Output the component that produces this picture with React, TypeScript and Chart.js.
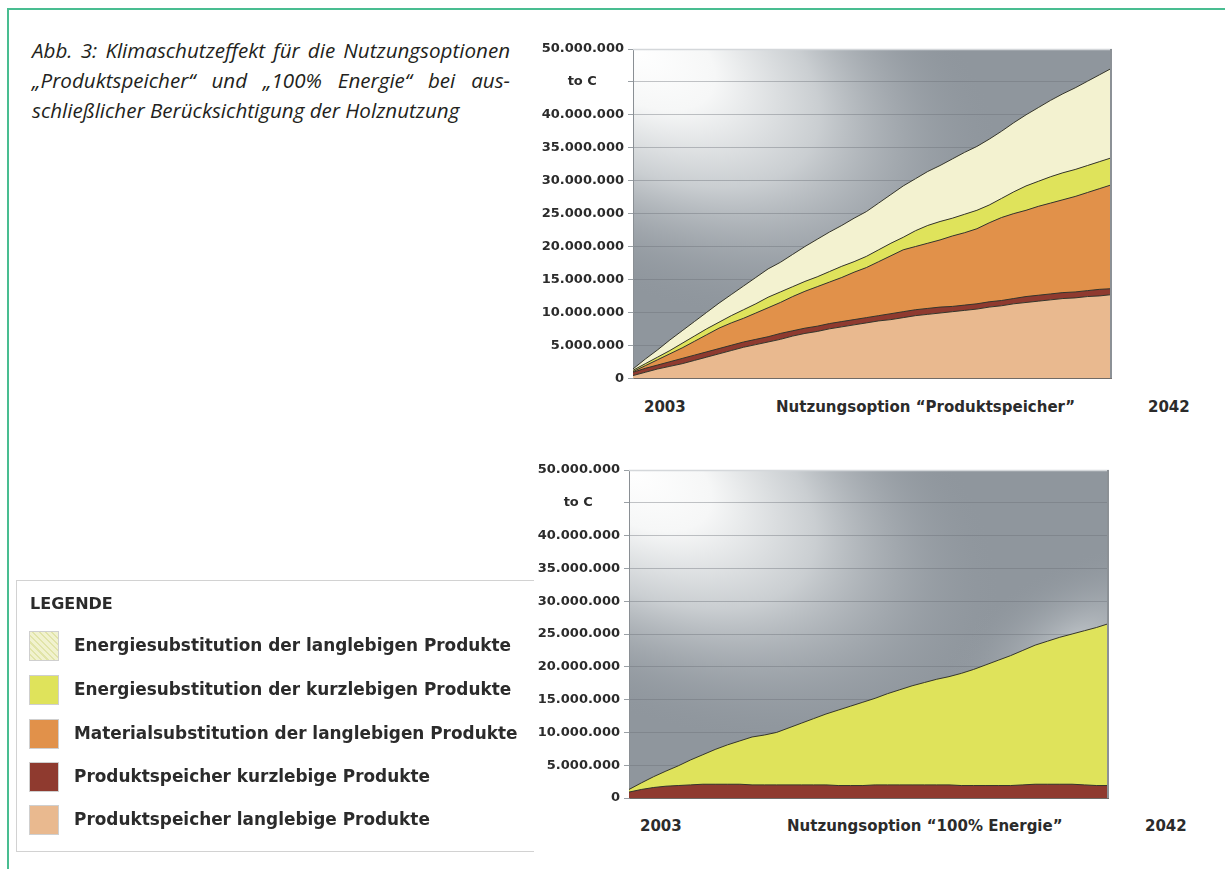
import React, { useEffect, useRef } from "react";
import { Chart, registerables } from "chart.js";

Chart.register(...registerables);

// ---------- data ----------
const YEARS: string[] = Array.from({ length: 40 }, (_, i) => String(2003 + i));

const SERIES_LABELS = [
  "Energiesubstitution der langlebigen Produkte",
  "Energiesubstitution der kurzlebigen Produkte",
  "Materialsubstitution der langlebigen Produkte",
  "Produktspeicher kurzlebige Produkte",
  "Produktspeicher langlebige Produkte",
];
const SERIES_COLORS = ["#f3f2d0", "#dfe35b", "#e1914a", "#8f3a2f", "#e9b98f"];

// Top chart: Nutzungsoption "Produktspeicher" (millions t C, per layer)
const PS_LANG_A = [0.4, 0.9, 1.4, 1.8, 2.2, 2.7, 3.2, 3.7, 4.2, 4.7, 5.1, 5.5, 5.9, 6.4, 6.8, 7.1, 7.5, 7.8, 8.1, 8.4, 8.7, 8.9, 9.2, 9.5, 9.7, 9.9, 10.1, 10.3, 10.5, 10.8, 11.0, 11.3, 11.5, 11.7, 11.9, 12.1, 12.2, 12.4, 12.5, 12.7];
const PS_KURZ_A = [0.5, 0.6, 0.6, 0.7, 0.8, 0.8, 0.8, 0.8, 0.8, 0.8, 0.8, 0.8, 0.9, 0.8, 0.8, 0.8, 0.8, 0.8, 0.8, 0.8, 0.8, 0.9, 0.9, 0.9, 0.9, 0.9, 0.8, 0.8, 0.8, 0.8, 0.8, 0.8, 0.9, 0.9, 0.9, 0.9, 0.9, 0.9, 1.0, 0.9];
const MAT_LANG_A = [0.1, 0.4, 0.8, 1.2, 1.6, 2.1, 2.6, 3.1, 3.4, 3.6, 4.0, 4.4, 4.7, 5.2, 5.6, 6.0, 6.3, 6.7, 7.2, 7.6, 8.2, 8.8, 9.4, 9.6, 9.9, 10.2, 10.7, 11.0, 11.4, 12.0, 12.6, 12.9, 13.1, 13.5, 13.8, 14.1, 14.5, 14.9, 15.3, 15.8];
const EN_KURZ_A = [0.2, 0.3, 0.4, 0.5, 0.7, 0.8, 0.9, 0.9, 1.1, 1.3, 1.4, 1.6, 1.6, 1.5, 1.5, 1.5, 1.6, 1.7, 1.6, 1.7, 1.8, 1.9, 1.9, 2.4, 2.7, 2.8, 2.7, 2.8, 2.8, 2.7, 2.9, 3.3, 3.7, 3.8, 4.0, 4.1, 4.1, 4.1, 4.1, 4.1];
const EN_LANG_A = [0.2, 0.7, 1.1, 1.6, 1.9, 2.2, 2.5, 2.9, 3.2, 3.6, 4.0, 4.3, 4.5, 4.9, 5.3, 5.7, 6.0, 6.2, 6.6, 6.8, 7.1, 7.4, 7.8, 7.9, 8.2, 8.5, 9.0, 9.4, 9.7, 10.0, 10.2, 10.5, 10.8, 11.2, 11.6, 12.0, 12.4, 12.8, 13.2, 13.6];

// Bottom chart: Nutzungsoption "100% Energie"
const PS_KURZ_B = [0.9, 1.3, 1.6, 1.8, 1.9, 2.0, 2.1, 2.1, 2.1, 2.1, 2.0, 2.0, 2.0, 2.0, 2.0, 2.0, 2.0, 1.9, 1.9, 1.9, 2.0, 2.0, 2.0, 2.0, 2.0, 2.0, 2.0, 1.9, 1.9, 1.9, 1.9, 1.9, 2.0, 2.1, 2.1, 2.1, 2.1, 2.0, 1.9, 1.9];
const EN_KURZ_B = [0.4, 1.0, 1.65, 2.3, 3.0, 3.8, 4.5, 5.3, 6.0, 6.6, 7.3, 7.6, 8.0, 8.7, 9.4, 10.1, 10.8, 11.5, 12.1, 12.7, 13.2, 13.9, 14.5, 15.1, 15.6, 16.1, 16.5, 17.1, 17.7, 18.4, 19.1, 19.8, 20.5, 21.2, 21.8, 22.4, 22.9, 23.5, 24.1, 24.7];

const Y_MAX = 50000000;
const Y_STEP = 5000000;
const UNIT_TICK = 45000000;
const UNIT_LABEL = "to C";
const TITLE_TOP = "Nutzungsoption \u201CProduktspeicher\u201D";
const TITLE_BOTTOM = "Nutzungsoption \u201C100% Energie\u201D";
const CAPTION = [
  "Abb. 3: Klimaschutzeffekt f\u00FCr die Nutzungsoptionen",
  "\u201EProduktspeicher\u201C und \u201E100% Energie\u201C bei aus-",
  "schlie\u00DFlicher Ber\u00FCcksichtigung der Holznutzung",
];

const M = 1000000;
const FONT = "'DejaVu Sans', Verdana, sans-serif";
const TEXT = "#2b2b2b";

function fmt(v: number): string {
  return String(Math.round(v)).replace(/\B(?=(\d{3})+(?!\d))/g, ".");
}

function bgPlugin(lightSpot: boolean) {
  return {
    id: "bg",
    beforeDraw(chart: any) {
      const { ctx, chartArea: a } = chart;
      const w = a.right - a.left;
      const h = a.bottom - a.top;
      ctx.save();
      ctx.beginPath();
      ctx.rect(a.left, a.top, w, h);
      ctx.clip();
      ctx.fillStyle = "#8f969d";
      ctx.fillRect(a.left, a.top, w, h);
      if (lightSpot) {
        ctx.save();
        ctx.translate(a.left + w * 0.93, a.top + h * 0.52);
        ctx.rotate(-0.5);
        ctx.scale(1, 0.5);
        const g2 = ctx.createRadialGradient(0, 0, 0, 0, 0, w * 0.32);
        g2.addColorStop(0, "rgba(198,203,207,0.85)");
        g2.addColorStop(1, "rgba(143,150,157,0)");
        ctx.fillStyle = g2;
        ctx.fillRect(-w, -h * 3, w * 3, h * 6);
        ctx.restore();
      }
      ctx.save();
      ctx.translate(a.left, a.top);
      ctx.rotate(0.5);
      ctx.scale(1, 0.55);
      const g = ctx.createRadialGradient(0, 0, 0, 0, 0, w * 0.85);
      g.addColorStop(0, "rgba(255,255,255,1)");
      g.addColorStop(0.22, "rgba(246,247,247,1)");
      g.addColorStop(0.5, "rgba(205,209,212,0.95)");
      g.addColorStop(0.8, "rgba(163,169,175,0.45)");
      g.addColorStop(1, "rgba(143,150,157,0)");
      ctx.fillStyle = g;
      ctx.fillRect(-w, -h * 4, w * 3, h * 8);
      ctx.restore();
      ctx.restore();
    },
    afterDraw(chart: any) {
      const { ctx, chartArea: a } = chart;
      ctx.save();
      ctx.strokeStyle = "#d4d7da";
      ctx.lineWidth = 1.5;
      ctx.beginPath();
      ctx.moveTo(a.left, a.top + 0.5);
      ctx.lineTo(a.right, a.top + 0.5);
      ctx.stroke();
      ctx.strokeStyle = "#8c9196";
      ctx.lineWidth = 2;
      ctx.beginPath();
      ctx.moveTo(a.right - 1, a.top);
      ctx.lineTo(a.right - 1, a.bottom);
      ctx.stroke();
      ctx.restore();
    },
  };
}

function makeOptions(pad: { top: number; right: number; bottom: number }) {
  return {
    animation: false,
    responsive: false,
    layout: { padding: { left: 0, top: pad.top, right: pad.right, bottom: pad.bottom } },
    plugins: { legend: { display: false }, tooltip: { enabled: false } },
    elements: { point: { radius: 0 }, line: { tension: 0, borderWidth: 1, borderColor: "#35352b" } },
    scales: {
      x: { display: false, stacked: true },
      y: {
        stacked: true,
        min: 0,
        max: Y_MAX,
        afterFit(scale: any) {
          scale.width = 113;
        },
        border: { display: true, color: "#8a8f94", width: 1 },
        grid: {
          color: (c: any) => (c.tick && c.tick.value === Y_MAX ? "#d4d7da" : c.tick && c.tick.value === 0 ? "#6f6a66" : "rgba(105,111,117,0.4)"),
          tickLength: 5,
          tickColor: "#9aa0a5",
        },
        ticks: {
          stepSize: Y_STEP,
          padding: 4,
          color: TEXT,
          font: { family: FONT, weight: "bold", size: 13 },
          callback: (v: any) => (Number(v) === UNIT_TICK ? UNIT_LABEL + "      " : fmt(Number(v))),
        },
      },
    },
  };
}

function ds(label: string, data: number[], color: string, fill: any) {
  return {
    label,
    data: data.map((v) => v * M),
    backgroundColor: color,
    borderColor: "#35352b",
    borderWidth: 1,
    fill,
    pointRadius: 0,
  };
}

function useChart(ref: React.RefObject<HTMLCanvasElement>, build: () => any) {
  useEffect(() => {
    if (!ref.current) return;
    const chart = new Chart(ref.current, build());
    return () => chart.destroy();
  }, []);
}

const abs = (l: number, t: number, extra: React.CSSProperties = {}): React.CSSProperties => ({
  position: "absolute",
  left: l,
  top: t,
  ...extra,
});

const xLabel: React.CSSProperties = {
  fontFamily: FONT,
  fontWeight: "bold",
  fontSize: 15,
  color: TEXT,
  whiteSpace: "nowrap",
  lineHeight: "18px",
};

export default function App() {
  const topRef = useRef<HTMLCanvasElement>(null);
  const botRef = useRef<HTMLCanvasElement>(null);

  useChart(topRef, () => ({
    type: "line",
    data: {
      labels: YEARS,
      datasets: [
        ds(SERIES_LABELS[4], PS_LANG_A, SERIES_COLORS[4], "origin"),
        ds(SERIES_LABELS[3], PS_KURZ_A, SERIES_COLORS[3], "-1"),
        ds(SERIES_LABELS[2], MAT_LANG_A, SERIES_COLORS[2], "-1"),
        ds(SERIES_LABELS[1], EN_KURZ_A, SERIES_COLORS[1], "-1"),
        ds(SERIES_LABELS[0], EN_LANG_A, SERIES_COLORS[0], "-1"),
      ],
    },
    options: makeOptions({ top: 19, right: 13, bottom: 11 }),
    plugins: [bgPlugin(false)],
  }));

  useChart(botRef, () => ({
    type: "line",
    data: {
      labels: YEARS,
      datasets: [
        ds(SERIES_LABELS[3], PS_KURZ_B, SERIES_COLORS[3], "origin"),
        ds(SERIES_LABELS[1], EN_KURZ_B, SERIES_COLORS[1], "-1"),
      ],
    },
    options: makeOptions({ top: 20, right: 12, bottom: 12 }),
    plugins: [bgPlugin(true)],
  }));

  const legendTops = [631, 675, 719, 762, 805];

  return (
    <div style={{ position: "fixed", left: 0, top: 0, width: 1225, height: 869, background: "#fff", overflow: "hidden" }}>
      <div style={abs(7, 8, { width: 1240, height: 880, borderLeft: "2px solid #49bd91", borderTop: "2px solid #49bd91" })} />

      {CAPTION.map((line, i) => (
        <div
          key={i}
          style={abs(32, 35 + i * 30, {
            width: 478,
            fontFamily: "'Open Sans', sans-serif",
            fontStyle: "italic",
            fontSize: 20.6,
            lineHeight: "30px",
            color: "#231f20",
            whiteSpace: "nowrap",
            textAlign: i < 2 ? "justify" : "left",
            textAlignLast: i < 2 ? "justify" : "left",
          } as React.CSSProperties)}
        >
          {line}
        </div>
      ))}

      <canvas ref={topRef} width={605} height={360} style={abs(520, 30, { width: 605, height: 360 })} />
      <canvas ref={botRef} width={605} height={360} style={abs(516, 450, { width: 605, height: 360 })} />

      <div style={abs(644, 398, xLabel)}>{YEARS[0]}</div>
      <div style={abs(776, 398, xLabel)}>{TITLE_TOP}</div>
      <div style={abs(1148, 398, xLabel)}>{YEARS[YEARS.length - 1]}</div>

      <div style={abs(640, 817, xLabel)}>{YEARS[0]}</div>
      <div style={abs(787, 817, xLabel)}>{TITLE_BOTTOM}</div>
      <div style={abs(1145, 817, xLabel)}>{YEARS[YEARS.length - 1]}</div>

      <div
        style={abs(16, 580, {
          width: 517,
          height: 270,
          borderTop: "1px solid #d2d2d2",
          borderLeft: "1px solid #d2d2d2",
          borderBottom: "1px solid #d2d2d2",
        })}
      />
      <div style={abs(30, 594, { fontFamily: FONT, fontWeight: "bold", fontSize: 16, color: TEXT, lineHeight: "20px" })}>LEGENDE</div>
      {SERIES_LABELS.map((lab, i) => (
        <React.Fragment key={i}>
          <div
            style={abs(29, legendTops[i], {
              width: 28,
              height: 28,
              border: "1px solid #cfcfcf",
              background:
                i === 0
                  ? "repeating-linear-gradient(45deg, #f1f2cf 0px, #f1f2cf 3px, #e1e4a8 3px, #e1e4a8 4.5px)"
                  : SERIES_COLORS[i],
            })}
          />
          <div
            style={abs(74, legendTops[i] + 3, {
              fontFamily: FONT,
              fontWeight: "bold",
              fontSize: 16.9,
              color: TEXT,
              lineHeight: "22px",
              whiteSpace: "nowrap",
            })}
          >
            {lab}
          </div>
        </React.Fragment>
      ))}
    </div>
  );
}
